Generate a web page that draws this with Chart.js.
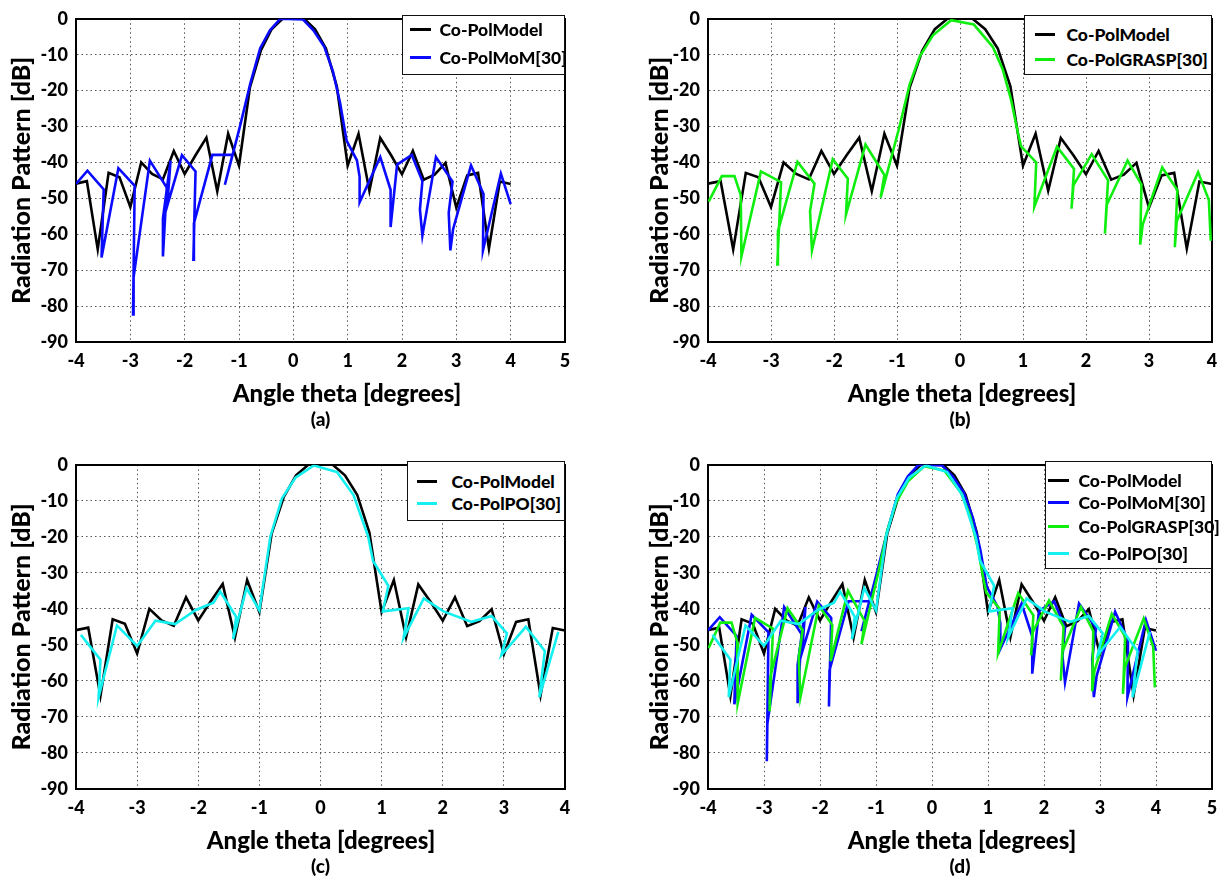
<!DOCTYPE html>
<html>
<head>
<meta charset="utf-8">
<title>Radiation pattern comparison</title>
<script src="https://cdn.jsdelivr.net/npm/chart.js@4.4.0/dist/chart.umd.min.js"></script>
<style>
  html, body { margin: 0; padding: 0; background: #fff; }
  body { width: 1225px; height: 878px; position: relative; overflow: hidden; font-family: Lato, sans-serif; }
  canvas { position: absolute; }
  .legend { position: absolute; box-sizing: border-box; border: 1.5px solid #111; background: #fff; }
  .legend .swatch { position: absolute; height: 3px; }
  .legend .label { position: absolute; font-weight: 900; font-size: 17.5px; line-height: 20px; white-space: nowrap; color: #000; }
</style>
</head>
<body>
<script>
// model pattern, sampled every 0.2 deg
const modelAngles = [-4.0, -3.8, -3.6, -3.4, -3.2, -3.0, -2.8, -2.6, -2.4, -2.2, -2.0, -1.8, -1.6, -1.4, -1.2, -1.0, -0.8, -0.6, -0.4, -0.2,
  0.0, 0.2, 0.4, 0.6, 0.8, 1.0, 1.2, 1.4, 1.6, 1.8, 2.0, 2.2, 2.4, 2.6, 2.8, 3.0, 3.2, 3.4, 3.6, 3.8, 4.0];
const modelDb = [-45.9, -45.2, -64.2, -42.9, -44.1, -52.4, -40.0, -43.2, -44.7, -36.8, -43.2, -38.0, -33.1, -48.0, -32.0, -40.9, -19.2, -8.9, -2.9, 0.0,
  0.0, 0.0, -2.9, -8.3, -18.8, -40.9, -32.0, -47.9, -33.2, -38.0, -43.3, -36.8, -44.8, -43.4, -40.1, -52.6, -43.6, -42.9, -64.0, -45.3, -46.0];

// MoM [30] (digitised, not evenly spaced)
const momAngles = [-4.00, -3.79, -3.49, -3.53, -3.22, -2.92, -2.95, -2.94, -2.64, -2.33, -2.40, -2.40, -2.26, -2.32, -2.05, -1.80, -1.84, -1.83,
  -1.49, -1.12, -1.26, -0.98, -0.79, -0.61, -0.43, -0.24, 0.18, 0.37, 0.57, 0.73, 0.86, 0.98, 1.17, 1.22, 1.22, 1.60, 1.79, 1.79,
  1.91, 2.18, 2.375, 2.33, 2.375, 2.625, 2.93, 2.86, 2.89, 2.94, 3.27, 3.50, 3.49, 3.82, 4.00];
const momDb = [-46.0, -42.3, -47.5, -66.5, -41.6, -46.5, -82.3, -72.0, -39.5, -47.0, -66.2, -55.6, -39.5, -52.0, -38.0, -42.5, -67.1, -57.0,
  -37.9, -37.9, -46.2, -29.8, -17.9, -8.2, -3.2, 0.0, -0.2, -3.2, -7.8, -14.7, -23.4, -33.9, -39.4, -44.0, -51.1, -38.5, -47.6, -58.0,
  -40.6, -37.9, -45.2, -53.1, -60.4, -38.5, -45.3, -54.0, -64.5, -58.6, -40.8, -48.8, -64.5, -43.1, -51.6];

// GRASP [30]
const graspAngles = [-3.99, -3.78, -3.58, -3.48, -3.47, -3.16, -2.84, -2.90, -2.89, -2.58, -2.31, -2.38, -2.35, -2.02, -1.78, -1.81, -1.50,
  -1.20, -1.26, -0.96, -0.80, -0.64, -0.43, -0.14, 0.22, 0.52, 0.68, 0.81, 0.92, 0.97, 1.21, 1.18, 1.54, 1.81, 1.77, 1.80, 2.09,
  2.35, 2.30, 2.33, 2.66, 2.88, 2.86, 2.90, 3.21, 3.45, 3.41, 3.44, 3.78, 3.95, 3.98];
const graspDb = [-50.9, -43.8, -43.8, -49.1, -66.2, -42.5, -45.5, -68.4, -59.1, -39.8, -45.9, -53.6, -64.5, -39.1, -44.5, -54.5, -35.0,
  -43.5, -49.8, -30.0, -18.3, -10.5, -4.6, -0.4, -1.6, -7.8, -14.2, -22.5, -31.8, -35.5, -40.0, -52.3, -35.6, -41.8, -52.9, -46.4, -37.7,
  -45.0, -59.8, -51.8, -39.5, -46.2, -62.9, -57.3, -41.4, -47.7, -63.6, -56.4, -42.7, -50.5, -61.8];

// PO [30]
const poAngles = [-3.92, -3.60, -3.63, -3.33, -3.00, -2.70, -2.38, -2.04, -1.75, -1.64, -1.38, -1.43, -1.21, -1.00, -0.82, -0.63, -0.41,
  -0.11, 0.27, 0.54, 0.78, 0.86, 1.11, 1.02, 1.44, 1.36, 1.69, 2.01, 2.47, 2.80, 3.05, 2.96, 3.36, 3.67, 3.58, 3.89];
const poDb = [-47.2, -54.1, -64.5, -44.6, -50.3, -43.3, -44.2, -40.3, -38.3, -35.2, -42.2, -48.4, -34.2, -40.4, -19.9, -9.3, -3.6,
  -0.2, -2.0, -8.4, -19.9, -26.7, -33.6, -40.7, -39.8, -48.0, -37.1, -40.7, -43.6, -42.0, -46.8, -52.8, -45.0, -51.7, -64.5, -46.4];

const dbMin = -90, dbMax = 0, dbStep = 10;
const xTitle = 'Angle theta [degrees]';
const yTitle = 'Radiation Pattern [dB]';

const model = { label: 'Co-PolModel', x: modelAngles, y: modelDb, color: '#000000', order: 3 };
const mom = { label: 'Co-PolMoM[30]', x: momAngles, y: momDb, color: '#0a0aff', order: 2 };
const grasp = { label: 'Co-PolGRASP[30]', x: graspAngles, y: graspDb, color: '#10ee10', order: 1 };
const po = { label: 'Co-PolPO[30]', x: poAngles, y: poDb, color: '#14f0f0', order: 0 };

const panels = [
  { tag: '(a)', left: 0, top: 0, plotTop: 15, plotH: 327, plotL: 76, plotR: 565, yTitleX: 22, xTitleX: 347, xMax: 5,
    series: [model, mom],
    legend: { x: 402, y: 15, w: 163, h: 60, rows: [30, 58], lineX: 410, lineW: 21, textX: 440 } },
  { tag: '(b)', left: 640, top: 0, plotTop: 15, plotH: 327, plotL: 708, plotR: 1212, yTitleX: 660, xTitleX: 962, xMax: 4,
    series: [model, grasp],
    legend: { x: 1024, y: 15, w: 188, h: 60, rows: [35, 60], lineX: 1035, lineW: 20, textX: 1067 } },
  { tag: '(c)', left: 0, top: 446, plotTop: 15, plotH: 328, plotL: 76, plotR: 565, yTitleX: 22, xTitleX: 321, xMax: 4,
    series: [model, po],
    legend: { x: 407, y: 461, w: 158, h: 60, rows: [482, 504], lineX: 417, lineW: 20, textX: 452 } },
  { tag: '(d)', left: 640, top: 446, plotTop: 15, plotH: 328, plotL: 708, plotR: 1212, yTitleX: 660, xTitleX: 962, xMax: 5,
    series: [model, mom, grasp, po],
    legend: { x: 1045, y: 461, w: 167, h: 108, rows: [481, 503, 527, 554], lineX: 1048, lineW: 21, textX: 1079 } }
];

const bold = (size) => ({ family: 'Lato', size: size, weight: '900' });
const gridStyle = { color: '#555', lineWidth: 1, drawTicks: false };
const frame = { display: true, color: '#000', width: 2, dash: [1.5, 3] };

function makePanel(p) {
  const H = 440;
  const yTitleSize = 25, xTitleSize = 24, tagSize = 19, tickSize = 18;
  const pl = p.yTitleX - p.left - yTitleSize * 1.2 / 2;
  const W = Math.round(2 * (p.xTitleX - p.left) - pl);
  const yw = p.plotL - p.left - pl;
  const rw = p.left + W - p.plotR;
  const xh = 28;
  // x title centre 52px under the plot, caption centre 78px under it
  const subPad = 52 - xh - xTitleSize * 0.6;
  const subH = xTitleSize * 1.2 + subPad;
  const tagPad = Math.max(0, 78 - xh - subH - tagSize * 0.6);
  const tagH = tagSize * 1.2 + tagPad;
  const pb = H - p.plotTop - p.plotH - xh - subH - tagH;

  const canvas = document.createElement('canvas');
  canvas.width = W;
  canvas.height = H;
  canvas.style.left = p.left + 'px';
  canvas.style.top = p.top + 'px';
  document.body.appendChild(canvas);

  new Chart(canvas, {
    type: 'scatter',
    data: {
      datasets: p.series.map(s => ({
        label: s.label,
        data: s.x.map((x, i) => ({ x: x, y: s.y[i] })),
        showLine: true,
        borderColor: s.color,
        backgroundColor: s.color,
        borderWidth: 2.6,
        pointRadius: 0,
        tension: 0,
        order: s.order
      }))
    },
    options: {
      responsive: false,
      animation: false,
      events: [],
      layout: { padding: { left: pl, right: 0, top: p.plotTop, bottom: pb } },
      plugins: {
        legend: { display: false },
        tooltip: { enabled: false },
        subtitle: { display: true, position: 'bottom', text: xTitle, color: '#000', font: bold(xTitleSize), padding: { top: subPad, bottom: 0 } },
        title: { display: true, position: 'bottom', fullSize: false, text: p.tag, color: '#000', font: bold(tagSize), padding: { top: tagPad, bottom: 0 } }
      },
      scales: {
        x: {
          type: 'linear', position: 'bottom', min: -4, max: p.xMax,
          ticks: { stepSize: 1, padding: 8, color: '#000', font: bold(tickSize), maxRotation: 0 },
          grid: gridStyle, border: frame,
          afterFit: s => { s.height = xh; }
        },
        y: {
          type: 'linear', position: 'left', min: dbMin, max: dbMax,
          ticks: { stepSize: dbStep, padding: 8, color: '#000', font: bold(tickSize) },
          grid: gridStyle, border: frame,
          title: { display: true, text: yTitle, color: '#000', font: bold(yTitleSize), padding: 0 },
          afterFit: s => { s.width = yw; }
        },
        x2: {
          type: 'linear', position: 'top', min: -4, max: p.xMax,
          ticks: { display: false }, grid: { display: false, drawTicks: false },
          border: { display: true, color: '#000', width: 2 },
          afterFit: s => { s.height = 0; }
        },
        y2: {
          type: 'linear', position: 'right', min: dbMin, max: dbMax,
          ticks: { display: false }, grid: { display: false, drawTicks: false },
          border: { display: true, color: '#000', width: 2 },
          afterFit: s => { s.width = rw; }
        }
      }
    }
  });

  // legend box
  const lg = p.legend;
  const box = document.createElement('div');
  box.className = 'legend';
  box.style.left = lg.x + 'px';
  box.style.top = lg.y + 'px';
  box.style.width = lg.w + 'px';
  box.style.height = lg.h + 'px';
  p.series.forEach((s, i) => {
    const cy = lg.rows[i] - lg.y - 1.5;
    const sw = document.createElement('div');
    sw.className = 'swatch';
    sw.style.left = (lg.lineX - lg.x - 1.5) + 'px';
    sw.style.width = lg.lineW + 'px';
    sw.style.top = (cy - 1.5) + 'px';
    sw.style.background = s.color;
    const lb = document.createElement('div');
    lb.className = 'label';
    lb.style.left = (lg.textX - lg.x - 1.5) + 'px';
    lb.style.top = (cy - 10) + 'px';
    lb.textContent = s.label;
    box.appendChild(sw);
    box.appendChild(lb);
  });
  document.body.appendChild(box);
}

panels.forEach(makePanel);
</script>
</body>
</html>
